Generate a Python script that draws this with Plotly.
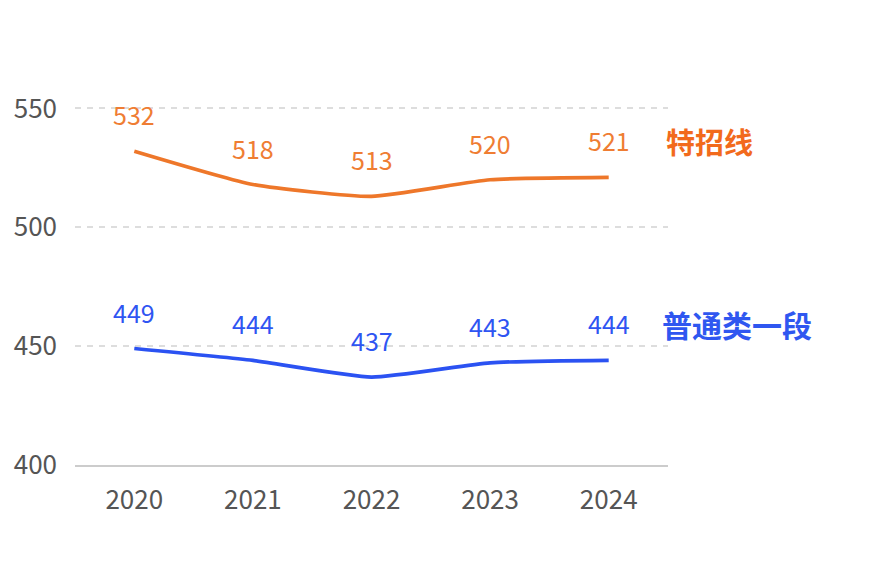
import plotly.graph_objects as go

years = ["2020", "2021", "2022", "2023", "2024"]
special = [532, 518, 513, 520, 521]
general = [449, 444, 437, 443, 444]
series_names = ["特招线", "普通类一段"]
y_ticks = [400, 450, 500, 550]

orange = "#EE772A"
blue = "#2B52F2"
orange_label = "#F26A1C"
blue_label = "#2F57F0"
font_family = "Noto Sans CJK SC, Noto Sans, sans-serif"

fig = go.Figure()
for vals, color in [(special, orange), (general, blue)]:
    fig.add_trace(go.Scatter(
        x=years, y=vals, mode="lines",
        line=dict(color=color, width=3.7, shape="spline", smoothing=0.5),
        hoverinfo="skip", showlegend=False,
    ))

for vals, color, lcolor, name, xs, fs in [(special, "#EF7D33", orange_label, series_names[0], 55, 29),
                                          (general, "#2F55F2", blue_label, series_names[1], 51, 30)]:
    for i, v in enumerate(vals):
        fig.add_annotation(
            xref="x", yref="y", x=i, y=v, text=str(v), showarrow=False,
            yshift=37, font=dict(color=color, size=25, family=font_family),
        )
    fig.add_annotation(
        xref="x", yref="y", x=len(vals) - 1, y=vals[-1], text="<b>%s</b>" % name,
        showarrow=False, xanchor="left", xshift=xs, yshift=36,
        font=dict(color=lcolor, size=fs, family=font_family),
    )

fig.update_layout(
    width=881, height=584,
    margin=dict(l=75, r=213, t=107, b=119),
    paper_bgcolor="white", plot_bgcolor="white",
    font=dict(family=font_family, color="#555555", size=26),
    xaxis=dict(
        type="category", range=[-0.5, 4.5],
        showgrid=False, showline=True, linecolor="#cccccc", linewidth=1.5,
        ticks="", ticklabelstandoff=11,
        tickfont=dict(size=26, color="#555555"),
        zeroline=False,
    ),
    yaxis=dict(
        range=[400, 550.6], tickvals=y_ticks,
        showgrid=True, gridcolor="#dddddd", gridwidth=1.5, griddash="6px,6px",
        zeroline=False, showline=False, ticks="", ticklabelstandoff=17,
        tickfont=dict(size=26, color="#555555"),
    ),
)

fig.write_html("out.html")
